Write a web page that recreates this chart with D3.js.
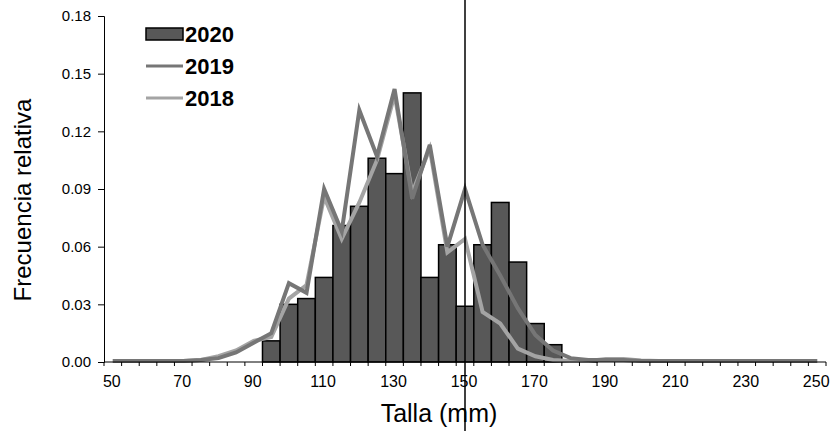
<!DOCTYPE html>
<html>
<head>
<meta charset="utf-8">
<script src="https://cdn.jsdelivr.net/npm/d3@7"></script>
<style>
  html, body { margin: 0; padding: 0; background: #fff; }
  svg { display: block; font-family: "Liberation Sans", Arial, sans-serif; }
</style>
</head>
<body>
<svg id="chart" width="830" height="431"></svg>
<script>
const categories = [50,55,60,65,70,75,80,85,90,95,100,105,110,115,120,125,130,135,140,145,150,155,160,165,170,175,180,185,190,195,200,205,210,215,220,225,230,235,240,245,250];
const xTickLabels = [50,70,90,110,130,150,170,190,210,230,250];
const yTicks = [0,0.03,0.06,0.09,0.12,0.15,0.18];
const seriesNames = ["2020","2019","2018"];
const values2020 = [0,0,0,0,0,0,0,0,0,0.011,0.030,0.033,0.044,0.071,0.081,0.106,0.098,0.140,0.044,0.061,0.029,0.061,0.083,0.052,0.020,0.009,0.001,0.001,0,0,0,0,0,0,0,0,0,0,0,0,0];
const values2019 = [0.0005,0.0005,0.0005,0.0005,0.0005,0.001,0.002,0.005,0.010,0.015,0.041,0.036,0.090,0.068,0.131,0.107,0.142,0.085,0.113,0.060,0.090,0.061,0.045,0.028,0.014,0.006,0.002,0.001,0.001,0.001,0.0005,0.0005,0.0005,0.0005,0.0005,0.0005,0.0005,0.0005,0.0005,0.0005,0.0005];
const values2018 = [0.0005,0.0005,0.0005,0.0005,0.0005,0.001,0.003,0.006,0.011,0.013,0.033,0.040,0.086,0.064,0.083,0.105,0.139,0.088,0.111,0.057,0.064,0.026,0.020,0.007,0.003,0.001,0.0005,0.0005,0.0015,0.0015,0.0008,0.0005,0.0005,0.0005,0.0005,0.0005,0.0005,0.0005,0.0005,0.0005,0.0005];
const markerValue = 150;

const svg = d3.select("#chart");
const mLeft = 104, mRight = 826, mTop = 16, mBottom = 362;

const x = d3.scaleBand().domain(categories).range([mLeft, mRight]).padding(0);
const y = d3.scaleLinear().domain([0, 0.18]).range([mBottom, mTop]);
const cx = c => x(c) + x.bandwidth() / 2;

const barFill = "#585858";
const col2019 = "#767676";
const col2018 = "#a4a4a4";

// bars 2020
svg.append("g").selectAll("rect")
  .data(categories.map((c, i) => ({c, v: values2020[i]})).filter(d => d.v > 0))
  .join("rect")
  .attr("x", d => x(d.c))
  .attr("y", d => y(d.v))
  .attr("width", x.bandwidth())
  .attr("height", d => y(0) - y(d.v))
  .attr("fill", barFill)
  .attr("stroke", "#000")
  .attr("stroke-width", 1.5);

// lines
const line = d3.line().x(d => cx(d.c)).y(d => y(d.v));
svg.append("path")
  .datum(categories.map((c, i) => ({c, v: values2018[i]})))
  .attr("d", line).attr("fill", "none").attr("stroke", col2018)
  .attr("stroke-width", 4).attr("stroke-linejoin", "miter");
svg.append("path")
  .datum(categories.map((c, i) => ({c, v: values2019[i]})))
  .attr("d", line).attr("fill", "none").attr("stroke", col2019)
  .attr("stroke-width", 4).attr("stroke-linejoin", "miter");

// x axis
const xAxis = svg.append("g");
xAxis.append("line").attr("x1", mLeft).attr("x2", mRight).attr("y1", mBottom).attr("y2", mBottom)
  .attr("stroke", "#000").attr("stroke-width", 1);
const boundaries = categories.map(c => x(c)).concat([mRight]);
xAxis.selectAll("line.tick").data(boundaries).join("line").attr("class", "tick")
  .attr("x1", d => d).attr("x2", d => d).attr("y1", mBottom).attr("y2", mBottom + 4)
  .attr("stroke", "#000");
xAxis.selectAll("text").data(xTickLabels).join("text")
  .attr("x", d => cx(d) - 1).attr("y", mBottom + 25)
  .attr("text-anchor", "middle").attr("font-size", 16).attr("fill", "#000")
  .text(d => d);

// y axis
const yAxis = svg.append("g").attr("transform", `translate(${mLeft},0)`);
yAxis.call(d3.axisLeft(y).tickValues(yTicks).tickFormat(d3.format(".2f")).tickSize(6).tickPadding(7));
yAxis.select(".domain").attr("stroke", "#000");
yAxis.selectAll(".tick line").attr("stroke", "#000");
yAxis.selectAll(".tick text").attr("font-size", 15).attr("fill", "#000")
  .attr("font-family", "Liberation Sans, Arial, sans-serif");

// titles
svg.append("text").attr("x", 439).attr("y", 422).attr("text-anchor", "middle")
  .attr("font-size", 25).attr("fill", "#000").text("Talla (mm)");
svg.append("text").attr("transform", "translate(31,200) rotate(-90)").attr("text-anchor", "middle")
  .attr("font-size", 24).attr("fill", "#000").text("Frecuencia relativa");

// vertical marker line
svg.append("line").attr("x1", cx(markerValue)).attr("x2", cx(markerValue))
  .attr("y1", 0).attr("y2", 431).attr("stroke", "#000").attr("stroke-width", 1.5);

// legend
const lg = svg.append("g");
lg.append("rect").attr("x", 146).attr("y", 28).attr("width", 37).attr("height", 12)
  .attr("fill", barFill).attr("stroke", "#000").attr("stroke-width", 1.5);
lg.append("line").attr("x1", 146).attr("x2", 183).attr("y1", 66).attr("y2", 66)
  .attr("stroke", col2019).attr("stroke-width", 3);
lg.append("line").attr("x1", 146).attr("x2", 183).attr("y1", 98).attr("y2", 98)
  .attr("stroke", col2018).attr("stroke-width", 3);
lg.selectAll("text").data(seriesNames).join("text")
  .attr("x", 185).attr("y", (d, i) => [42, 74, 106][i])
  .attr("font-size", 22).attr("font-weight", "bold").attr("fill", "#000")
  .text(d => d);
</script>
</body>
</html>
